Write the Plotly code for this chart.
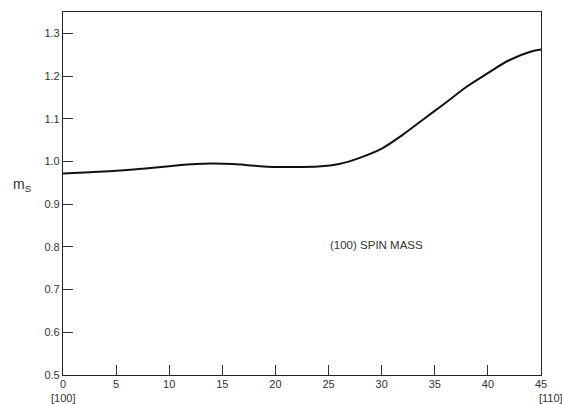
import plotly.graph_objects as go

angle = [0, 2.5, 5, 7.5, 10, 12.5, 14, 16, 18, 20, 22, 24, 26, 28, 30, 32, 34, 36, 38, 40, 42, 44, 45]
spin_mass = [0.972, 0.975, 0.978, 0.983, 0.989, 0.994, 0.995, 0.994, 0.990, 0.987, 0.987, 0.988,
             0.994, 1.009, 1.030, 1.063, 1.100, 1.137, 1.175, 1.207, 1.237, 1.257, 1.262]

x_ticks = [0, 5, 10, 15, 20, 25, 30, 35, 40, 45]
x_ticktext = ["0", "5", "10", "15", "20", "25", "30", "35", "40", "45"]
y_ticks = [0.5, 0.6, 0.7, 0.8, 0.9, 1.0, 1.1, 1.2, 1.3]
y_ticktext = ["0.5", "0.6", "0.7", "0.8", "0.9", "1.0", "1.1", "1.2", "1.3"]
direction_labels = ["[100]", "[110]"]
direction_positions = [0, 45]

W, H = 562, 404
ML, MR, MT, MB = 63, 21, 12, 29
PW, PH = W - ML - MR, H - MT - MB

fig = go.Figure()
fig.add_trace(go.Scatter(x=angle, y=spin_mass, mode="lines",
                         line=dict(color="#111111", width=2, shape="spline", smoothing=1.0),
                         showlegend=False, hoverinfo="skip"))

fam = "Liberation Sans, DejaVu Sans, sans-serif"
font = dict(family=fam, size=11, color="#333333")

annotations = [
    dict(text="(100) SPIN MASS", x=29.5, y=0.805, xref="x", yref="y",
         showarrow=False, font=dict(family=fam, size=11.5, color="#333333")),
    dict(text="m<sub>S</sub>", x=(22 - ML) / PW, y=1 - (185 - MT) / PH,
         xref="paper", yref="paper", xanchor="center", yanchor="middle",
         showarrow=False, font=dict(family=fam, size=14, color="#333333")),
]
for lab, pos in zip(direction_labels, direction_positions):
    annotations.append(dict(text=lab, x=pos, y=-(398 - (MT + PH)) / PH, xref="x", yref="paper",
                            xanchor="center", yanchor="middle", showarrow=False,
                            xshift=0 if pos == 0 else 10, font=font))

fig.update_layout(
    width=W, height=H,
    margin=dict(l=ML, r=MR, t=MT, b=MB, autoexpand=False),
    paper_bgcolor="white", plot_bgcolor="white",
    font=font,
    xaxis=dict(range=[0, 45], tickvals=x_ticks, ticktext=x_ticktext, automargin=False,
               ticks="inside", ticklen=10, tickwidth=1, tickcolor="#333333",
               showline=True, linecolor="#222222", linewidth=1.2, mirror=True,
               showgrid=False, zeroline=False, tickfont=font, ticklabelstandoff=-1),
    yaxis=dict(range=[0.5, 1.35], tickvals=y_ticks, ticktext=y_ticktext, automargin=False,
               ticks="inside", ticklen=10, tickwidth=1, tickcolor="#333333",
               showline=True, linecolor="#222222", linewidth=1.2, mirror=True,
               showgrid=False, zeroline=False, tickfont=font),
    annotations=annotations,
)

fig.write_html("out.html", config={"displayModeBar": False},
               post_script="document.body.style.margin='0';document.body.style.overflow='hidden';")
